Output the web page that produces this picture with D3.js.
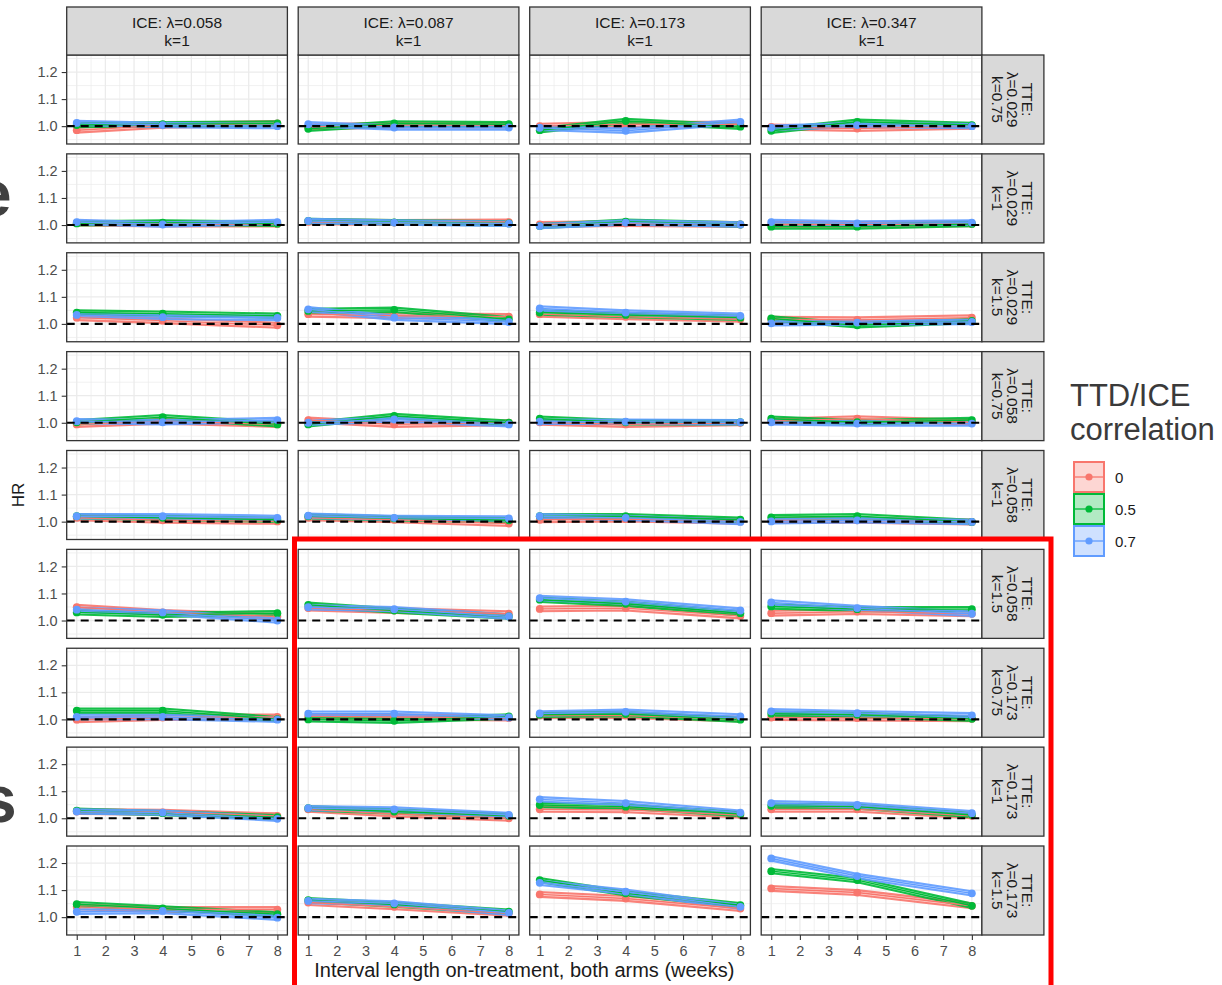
<!DOCTYPE html>
<meta charset="utf-8">
<style>
body { margin: 0; background: #fff; }
text { font-family: "Liberation Sans", Arial, sans-serif; }
.axis path.domain { display: none; }
.axis line { stroke: #333; stroke-width: 1.1px; }
.axis text { fill: #4d4d4d; font-size: 14.5px; font-family: "Liberation Sans", Arial, sans-serif; }
.grid-major { stroke: #ebebeb; stroke-width: 1.3px; }
.grid-minor { stroke: #ebebeb; stroke-width: 0.7px; }
.panel-border { fill: none; stroke: #333; stroke-width: 1.3px; }
.strip { fill: #d9d9d9; stroke: #333; stroke-width: 1.3px; }
.strip-text { fill: #1a1a1a; font-size: 15.5px; }
.ref-line { stroke: #000; stroke-width: 2.2px; stroke-dasharray: 8,6; }
</style>
<svg width="1222" height="985" id="chart"></svg>
<script src="https://cdn.jsdelivr.net/npm/d3@7"></script>
<script>

var weeks = [1, 4, 8];
var xTicks = [1, 2, 3, 4, 5, 6, 7, 8];
var yTicks = [1.0, 1.1, 1.2];

var iceLambda = ["0.058", "0.087", "0.173", "0.347"];
var iceK = ["1", "1", "1", "1"];
var tteLambda = ["0.029", "0.029", "0.029", "0.058", "0.058", "0.058", "0.173", "0.173", "0.173"];
var tteK = ["0.75", "1", "1.5", "0.75", "1", "1.5", "0.75", "1", "1.5"];

var corrLevels = ["0", "0.5", "0.7"];
var corrColors = ["#F8766D", "#00BA38", "#619CFF"];
var ciHalfWidth = [0.009, 0.008, 0.008];

// HR at weeks 1, 4, 8 -- one triplet per panel, rows = TTE, cols = ICE
var hrCorr0 = [
  [0.985, 1.003, 1.010], [0.997, 1.004, 1.004], [1.000, 1.007, 1.007], [0.997, 0.991, 1.000],
  [1.007, 1.004, 1.004], [1.012, 1.009, 1.011], [1.002, 1.006, 1.002], [1.002, 1.002, 1.005],
  [1.023, 1.012, 0.995], [1.036, 1.030, 1.027], [1.036, 1.026, 1.017], [1.017, 1.015, 1.023],
  [0.994, 1.006, 0.994], [1.010, 0.994, 1.000], [1.002, 0.994, 1.000], [1.006, 1.015, 1.002],
  [1.014, 1.005, 1.001], [1.014, 1.007, 0.993], [1.007, 1.010, 1.001], [1.004, 1.005, 0.999],
  [1.049, 1.030, 1.015], [1.046, 1.037, 1.025], [1.043, 1.046, 1.017], [1.027, 1.033, 1.025],
  [0.999, 1.007, 1.009], [1.011, 1.009, 1.005], [1.014, 1.014, 1.001], [1.007, 1.005, 1.002],
  [1.025, 1.022, 1.009], [1.033, 1.016, 1.000], [1.033, 1.031, 1.012], [1.033, 1.033, 1.009],
  [1.038, 1.028, 1.028], [1.054, 1.038, 1.014], [1.084, 1.069, 1.032], [1.106, 1.091, 1.042]
];
var hrCorr05 = [
  [1.004, 1.007, 1.010], [0.990, 1.010, 1.007], [0.985, 1.019, 0.998], [0.983, 1.016, 1.004],
  [1.006, 1.009, 1.005], [1.015, 1.010, 1.006], [0.996, 1.012, 1.002], [0.994, 0.994, 1.004],
  [1.042, 1.038, 1.030], [1.048, 1.052, 1.017], [1.042, 1.033, 1.023], [1.020, 0.995, 1.011],
  [1.002, 1.021, 0.994], [0.994, 1.025, 1.000], [1.015, 1.002, 1.002], [1.015, 1.002, 1.010],
  [1.020, 1.014, 1.007], [1.020, 1.012, 1.005], [1.020, 1.020, 1.007], [1.016, 1.020, 0.999],
  [1.030, 1.021, 1.027], [1.058, 1.037, 1.015], [1.077, 1.062, 1.027], [1.052, 1.042, 1.042],
  [1.032, 1.032, 1.001], [1.000, 0.995, 1.011], [1.017, 1.020, 0.999], [1.021, 1.017, 1.002],
  [1.028, 1.019, 1.004], [1.037, 1.025, 1.009], [1.049, 1.043, 1.016], [1.046, 1.043, 1.012],
  [1.048, 1.032, 1.011], [1.063, 1.047, 1.020], [1.137, 1.088, 1.044], [1.170, 1.137, 1.042]
];
var hrCorr07 = [
  [1.012, 1.004, 1.000], [1.007, 0.995, 0.995], [0.994, 0.983, 1.016], [0.994, 1.004, 1.000],
  [1.011, 1.002, 1.011], [1.015, 1.009, 1.005], [0.996, 1.009, 1.002], [1.011, 1.006, 1.009],
  [1.033, 1.025, 1.022], [1.054, 1.023, 1.007], [1.057, 1.042, 1.030], [1.002, 1.005, 1.007],
  [1.006, 1.002, 1.010], [1.000, 1.012, 0.994], [1.004, 1.004, 1.002], [1.002, 0.997, 0.997],
  [1.020, 1.020, 1.014], [1.022, 1.014, 1.012], [1.020, 1.014, 0.999], [1.001, 1.005, 0.999],
  [1.040, 1.030, 1.000], [1.049, 1.042, 1.015], [1.083, 1.070, 1.037], [1.067, 1.046, 1.025],
  [1.009, 1.009, 0.999], [1.021, 1.021, 1.007], [1.022, 1.028, 1.011], [1.030, 1.023, 1.015],
  [1.025, 1.021, 0.998], [1.037, 1.033, 1.012], [1.070, 1.056, 1.021], [1.056, 1.049, 1.019],
  [1.020, 1.023, 0.998], [1.060, 1.051, 1.016], [1.127, 1.094, 1.038], [1.217, 1.152, 1.088]
];

var hrSeries = [hrCorr0, hrCorr05, hrCorr07];

var svg = d3.select("svg#chart");
svg.append("rect").attr("width", 1222).attr("height", 985).attr("fill", "#fff");

var left0 = 66.7, colStep = 231.5, pw = 220.7,
    top0 = 55, rowStep = 98.875, ph = 89,
    stripH = 48, stripW = 62;

var x = d3.scaleLinear().domain([0.65, 8.35]).range([0, pw]),
    y = d3.scaleLinear().domain([0.934, 1.263]).range([ph, 0]);

var xMinor = d3.range(1.5, 8, 1),
    yMinor = [0.95, 1.05, 1.15, 1.25];

var area = d3.area()
    .x(function(d) { return x(d.w); })
    .y0(function(d) { return y(d.hr - d.ci); })
    .y1(function(d) { return y(d.hr + d.ci); });

var line = d3.line()
    .x(function(d) { return x(d.w); })
    .y(function(d) { return y(d.hr); });

var nRow = tteLambda.length, nCol = iceLambda.length;

for (var r = 0; r < nRow; r++) {
  for (var c = 0; c < nCol; c++) {
    var idx = r * nCol + c;
    var g = svg.append("g")
        .attr("transform", "translate(" + (left0 + c * colStep) + "," + (top0 + r * rowStep) + ")");

    var clipId = "clip-" + idx;
    g.append("clipPath").attr("id", clipId)
      .append("rect").attr("width", pw).attr("height", ph);

    g.append("rect").attr("width", pw).attr("height", ph).attr("fill", "#fff");

    // grid
    g.selectAll(".gx-minor").data(xMinor).enter().append("line")
        .attr("class", "grid-minor")
        .attr("x1", x).attr("x2", x).attr("y1", 0).attr("y2", ph);
    g.selectAll(".gy-minor").data(yMinor).enter().append("line")
        .attr("class", "grid-minor")
        .attr("x1", 0).attr("x2", pw).attr("y1", y).attr("y2", y);
    g.selectAll(".gx-major").data(xTicks).enter().append("line")
        .attr("class", "grid-major")
        .attr("x1", x).attr("x2", x).attr("y1", 0).attr("y2", ph);
    g.selectAll(".gy-major").data(yTicks).enter().append("line")
        .attr("class", "grid-major")
        .attr("x1", 0).attr("x2", pw).attr("y1", y).attr("y2", y);

    var plot = g.append("g").attr("clip-path", "url(#" + clipId + ")");

    var groups = hrSeries.map(function(s, k) {
      return {
        color: corrColors[k],
        values: weeks.map(function(w, i) { return {w: w, hr: s[idx][i], ci: ciHalfWidth[k]}; })
      };
    });

    groups.forEach(function(gr) {
      plot.append("path")
          .attr("d", area(gr.values))
          .attr("fill", gr.color).attr("fill-opacity", 0.3)
          .attr("stroke", gr.color).attr("stroke-width", 2.1).attr("stroke-opacity", 0.9)
          .attr("stroke-linejoin", "round");
    });
    groups.forEach(function(gr) {
      plot.append("path")
          .attr("d", line(gr.values))
          .attr("fill", "none")
          .attr("stroke", gr.color).attr("stroke-width", 1.4);
    });
    groups.forEach(function(gr) {
      plot.selectAll(null).data(gr.values).enter().append("circle")
          .attr("cx", function(d) { return x(d.w); })
          .attr("cy", function(d) { return y(d.hr); })
          .attr("r", 3.9)
          .attr("fill", gr.color);
    });

    plot.append("line")
        .attr("class", "ref-line")
        .attr("x1", 0).attr("x2", pw)
        .attr("y1", y(1)).attr("y2", y(1));

    g.append("rect").attr("class", "panel-border").attr("width", pw).attr("height", ph);

    if (c === 0) {
      g.append("g").attr("class", "axis")
          .call(d3.axisLeft(y).tickValues(yTicks).tickFormat(d3.format(".1f")).tickSize(5).tickPadding(4));
    }
    if (r === nRow - 1) {
      g.append("g").attr("class", "axis")
          .attr("transform", "translate(0," + ph + ")")
          .call(d3.axisBottom(x).tickValues(xTicks).tickFormat(d3.format("d")).tickSize(5).tickPadding(6));
    }

    // top strip
    if (r === 0) {
      g.append("rect").attr("class", "strip")
          .attr("y", -stripH).attr("width", pw).attr("height", stripH);
      var tt = g.append("text").attr("class", "strip-text").attr("text-anchor", "middle");
      tt.append("tspan").attr("x", pw / 2).attr("y", -26.7).text("ICE: λ=" + iceLambda[c]);
      tt.append("tspan").attr("x", pw / 2).attr("y", -9.5).text("k=" + iceK[c]);
    }
    // right strip
    if (c === nCol - 1) {
      g.append("rect").attr("class", "strip")
          .attr("x", pw).attr("width", stripW).attr("height", ph);
      var rt = g.append("text").attr("class", "strip-text").attr("text-anchor", "middle")
          .attr("transform", "translate(" + (pw + stripW / 2) + "," + (ph / 2) + ") rotate(90)");
      rt.append("tspan").attr("x", 0).attr("y", -9.5).text("TTE:");
      rt.append("tspan").attr("x", 0).attr("y", 5.5).text("λ=" + tteLambda[r]);
      rt.append("tspan").attr("x", 0).attr("y", 20.5).text("k=" + tteK[r]);
    }
  }
}

// axis titles
var panelsRight = left0 + (nCol - 1) * colStep + pw;
svg.append("text")
    .attr("x", (left0 + panelsRight) / 2).attr("y", 977)
    .attr("text-anchor", "middle")
    .attr("font-size", "20px").attr("fill", "#1a1a1a")
    .text("Interval length on-treatment, both arms (weeks)");

svg.append("text")
    .attr("transform", "translate(24," + (top0 + ((nRow - 1) * rowStep + ph) / 2) + ") rotate(-90)")
    .attr("text-anchor", "middle")
    .attr("font-size", "17px").attr("fill", "#1a1a1a")
    .text("HR");

// legend
var legend = svg.append("g").attr("transform", "translate(1070,0)");
legend.append("text").attr("y", 406).attr("font-size", "31px").attr("fill", "#3a3a3a").text("TTD/ICE");
legend.append("text").attr("y", 440).attr("font-size", "31px").attr("fill", "#3a3a3a").text("correlation");

var keys = legend.selectAll(".key").data(corrLevels).enter().append("g")
    .attr("class", "key")
    .attr("transform", function(d, i) { return "translate(4," + (462 + i * 32) + ")"; });
keys.append("rect")
    .attr("width", 30).attr("height", 30)
    .attr("fill", function(d, i) { return corrColors[i]; }).attr("fill-opacity", 0.3)
    .attr("stroke", function(d, i) { return corrColors[i]; }).attr("stroke-width", 2);
keys.append("line")
    .attr("x1", 0).attr("x2", 30).attr("y1", 15).attr("y2", 15)
    .attr("stroke", function(d, i) { return corrColors[i]; }).attr("stroke-width", 1.3);
keys.append("circle")
    .attr("cx", 15).attr("cy", 15).attr("r", 3.6)
    .attr("fill", function(d, i) { return corrColors[i]; });
keys.append("text")
    .attr("x", 41).attr("y", 20.5)
    .attr("font-size", "15px").attr("fill", "#1a1a1a")
    .text(function(d) { return d; });

// slide overlay: red highlight box and clipped slide text at left edge
svg.append("path")
    .attr("d", "M294.5,1000V539H1051V1000")
    .attr("fill", "none").attr("stroke", "#ff0000").attr("stroke-width", 5);

svg.append("text").attr("x", -24).attr("y", 216)
    .attr("font-size", "64px").attr("font-weight", "bold").attr("fill", "#404040").text("e");
svg.append("text").attr("x", -20).attr("y", 822)
    .attr("font-size", "66px").attr("font-weight", "bold").attr("fill", "#404040").text("s");

</script>
